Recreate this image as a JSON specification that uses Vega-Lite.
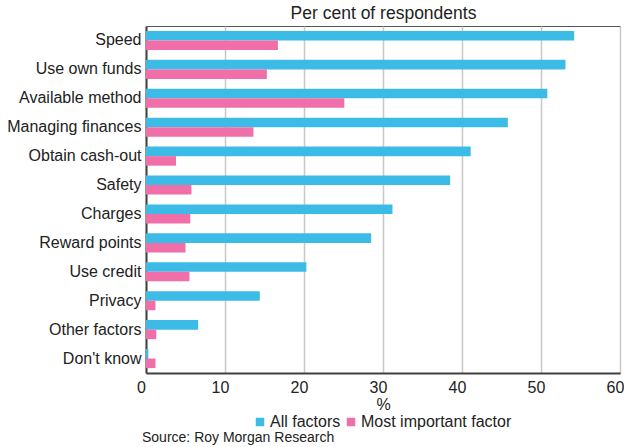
{
  "$schema": "https://vega.github.io/schema/vega-lite/v6.json",
  "width": 474,
  "height": 347,
  "autosize": {"type": "none"},
  "padding": {"left": 146, "top": 26, "right": 4, "bottom": 74},
  "background": "white",
  "config": {
    "font": "Liberation Sans",
    "view": {"stroke": "#555555", "strokeWidth": 1}
  },
  "title": {
    "text": "Source: Roy Morgan Research",
    "orient": "bottom",
    "anchor": "start",
    "frame": "group",
    "fontSize": 14,
    "fontWeight": "normal",
    "color": "#222222",
    "dx": -4,
    "offset": 1
  },
  "data": {
    "values": [
      {"factor": "Speed", "series": "All factors", "value": 54.2},
      {"factor": "Speed", "series": "Most important factor", "value": 16.7},
      {"factor": "Use own funds", "series": "All factors", "value": 53.1},
      {"factor": "Use own funds", "series": "Most important factor", "value": 15.3},
      {"factor": "Available method", "series": "All factors", "value": 50.8},
      {"factor": "Available method", "series": "Most important factor", "value": 25.1},
      {"factor": "Managing finances", "series": "All factors", "value": 45.8},
      {"factor": "Managing finances", "series": "Most important factor", "value": 13.6},
      {"factor": "Obtain cash-out", "series": "All factors", "value": 41.1},
      {"factor": "Obtain cash-out", "series": "Most important factor", "value": 3.8},
      {"factor": "Safety", "series": "All factors", "value": 38.5},
      {"factor": "Safety", "series": "Most important factor", "value": 5.75},
      {"factor": "Charges", "series": "All factors", "value": 31.2},
      {"factor": "Charges", "series": "Most important factor", "value": 5.6},
      {"factor": "Reward points", "series": "All factors", "value": 28.5},
      {"factor": "Reward points", "series": "Most important factor", "value": 5.0},
      {"factor": "Use credit", "series": "All factors", "value": 20.3},
      {"factor": "Use credit", "series": "Most important factor", "value": 5.5},
      {"factor": "Privacy", "series": "All factors", "value": 14.4},
      {"factor": "Privacy", "series": "Most important factor", "value": 1.2},
      {"factor": "Other factors", "series": "All factors", "value": 6.6},
      {"factor": "Other factors", "series": "Most important factor", "value": 1.3},
      {"factor": "Don't know", "series": "All factors", "value": 0.3},
      {"factor": "Don't know", "series": "Most important factor", "value": 1.2}
    ]
  },
  "layer": [
    {
      "mark": {"type": "bar"},
      "encoding": {
        "y": {
          "field": "factor",
          "type": "nominal",
          "sort": null,
          "scale": {"paddingInner": 0.34, "paddingOuter": 0.17},
          "axis": {
            "title": null,
            "ticks": false,
            "labelFontSize": 16,
            "labelColor": "#222222",
            "labelPadding": 5,
            "domainColor": "#404040",
            "domainWidth": 2
          }
        },
        "yOffset": {
          "field": "series",
          "type": "nominal",
          "sort": ["All factors", "Most important factor"]
        },
        "x": {
          "field": "value",
          "type": "quantitative",
          "scale": {"domain": [0, 60], "nice": false},
          "axis": {
            "title": "%",
            "titleFontSize": 16,
            "titleFontWeight": "normal",
            "titleColor": "#222222",
            "titlePadding": 1,
            "values": [0, 10, 20, 30, 40, 50, 60],
            "labelFontSize": 16,
            "labelColor": "#222222",
            "labelPadding": 6,
            "labelOffset": -5,
            "ticks": false,
            "grid": true,
            "gridColor": "#c8c8c8",
            "gridWidth": 1.5,
            "domainColor": "#404040",
            "domainWidth": 2,
            "labelFlush": false
          }
        },
        "color": {
          "field": "series",
          "type": "nominal",
          "scale": {
            "domain": ["All factors", "Most important factor"],
            "range": ["#3dbbe7", "#f06fa9"]
          },
          "legend": {
            "title": null,
            "orient": "none",
            "legendX": 106,
            "legendY": 388,
            "direction": "horizontal",
            "symbolType": "square",
            "symbolSize": 72,
            "symbolStrokeWidth": 0,
            "labelFontSize": 16,
            "labelColor": "#222222",
            "labelOffset": 2,
            "columnPadding": 2,
            "padding": 0
          }
        }
      }
    },
    {
      "mark": {"type": "bar", "opacity": 0},
      "encoding": {
        "y": {"field": "factor", "type": "nominal", "sort": null},
        "yOffset": {"field": "series", "type": "nominal"},
        "x": {
          "field": "value",
          "type": "quantitative",
          "axis": {
            "orient": "top",
            "title": "Per cent of respondents",
            "titleFontSize": 17.5,
            "titleFontWeight": "normal",
            "titleColor": "#222222",
            "titlePadding": 4,
            "labels": false,
            "ticks": false,
            "domain": false,
            "grid": false
          }
        }
      }
    }
  ],
  "resolve": {"axis": {"x": "independent"}}
}
